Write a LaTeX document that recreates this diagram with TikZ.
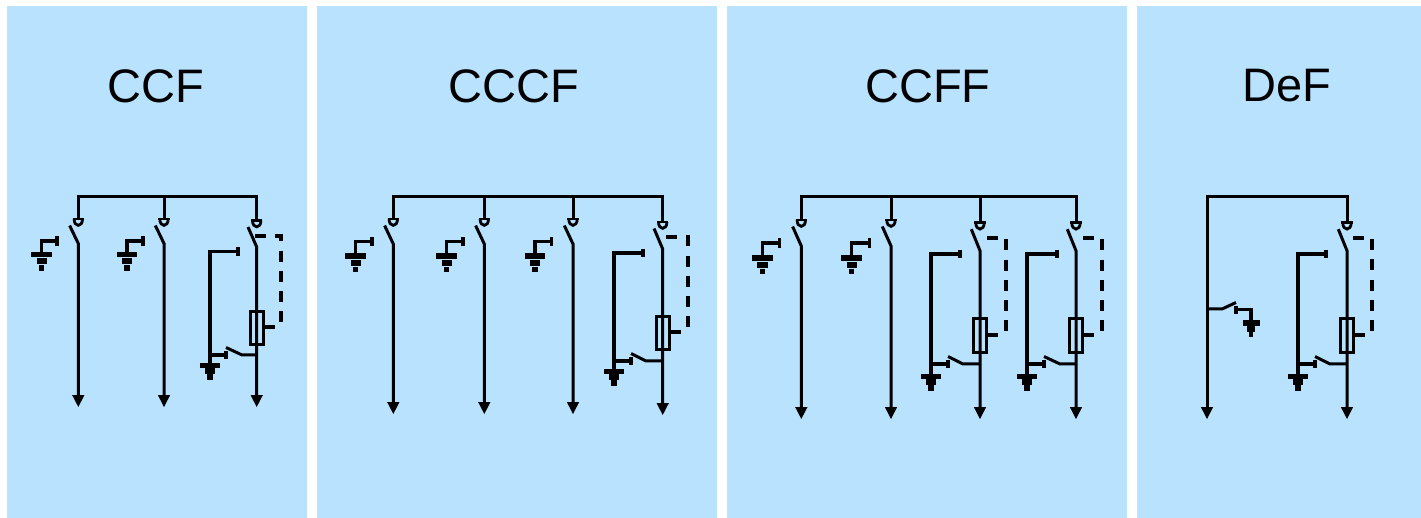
\documentclass[tikz,border=0pt]{standalone}
\usepackage{fontspec}
\setmainfont{Liberation Sans}
\definecolor{panelblue}{HTML}{B9E2FF}
\tikzset{
  wire/.style={line width=3pt,black,line cap=butt,line join=miter},
  earthwire/.style={line width=3.3pt,black,line cap=butt,line join=miter},
  cupwire/.style={line width=2.8pt,black},
  tick/.style={line width=3.6pt,black},
  dashwire/.style={line width=3.2pt,black,dash pattern=on 11pt off 9.3pt},
  panel/.style={fill=panelblue,draw=none},
  title/.style={font=\fontsize{47}{50}\selectfont,text=black,inner sep=0pt,anchor=center}
}
% separated earth symbol: x, top y
\newcommand{\gnd}[2]{%
  \begin{scope}[shift={(#1,#2)}]
  \fill (-10.3,0) rectangle (10.3,5.7);
  \fill (-5.2,6.7) rectangle (5.2,12.7);
  \fill (-2.7,13.7) rectangle (2.7,19);
  \end{scope}}
% merged earth symbol: x, top y
\newcommand{\gndb}[2]{%
  \begin{scope}[shift={(#1,#2)}]
  \fill (-9.6,0) rectangle (9.6,5.4);
  \fill (-5.2,5.4) rectangle (5.2,11);
  \fill (-2.7,11) rectangle (2.7,16.5);
  \end{scope}}
% feeder with isolator: x, cup y, tip y, blade length
\newcommand{\feeder}[4]{%
  \begin{scope}[shift={(#1,0)}]
  \draw[wire] (0,196) -- (0,#2);
  \draw[cupwire] (-5.7,#2) -- (5.7,#2);
  \draw[cupwire] (-4.2,#2) .. controls (-4.2,#2+8.5) and (4.2,#2+8.5) .. (4.2,#2);
  \draw[wire] (-8.7,#2+6.5) -- (0,#2+#4) -- (0,#3-11);
  \fill (-6.2,#3-12) -- (6.2,#3-12) -- (0,#3) -- cycle;
  \end{scope}}
% standalone earth: earth x, bar y, tick x, terminal y
\newcommand{\earthsw}[4]{%
  \draw[earthwire] (#3,#4) -- (#1,#4) -- (#1,#2);
  \draw[tick] (#3,#4-4.7) -- (#3,#4+4.7);
  \gnd{#1}{#2}}
% fuse: feeder x, top, bottom, stub y
\newcommand{\fuse}[4]{%
  \draw[wire] (#1-6.4,#2) rectangle (#1+6.4,#3);
  \draw[earthwire] (#1+6.4,#4) -- (#1+18,#4);}
% dashed link: start x, y, corner x, end y
\newcommand{\dashlink}[4]{%
  \draw[dashwire] (#1,#2) -- (#3,#2) -- (#3,#4);}
% earth path with lower switch: feeder x, earth x, upper tick x, upper y, bar y, lower tick x, lower y, knee x
\newcommand{\lowsw}[8]{%
  \draw[earthwire] (#3,#4) -- (#2,#4) -- (#2,#5);
  \draw[tick] (#3,#4-4.2) -- (#3,#4+4.2);
  \gndb{#2}{#5}
  \draw[wire] (#1,#7) -- (#8,#7) -- (#6,#7-7.5);
  \draw[earthwire] (#2,#7) -- (#6,#7);
  \draw[tick] (#6,#7-4) -- (#6,#7+4);}
\begin{document}
\begin{tikzpicture}[x=1pt,y=-1pt]
\useasboundingbox (0,0) rectangle (1421,518);
\fill[white] (0,0) rectangle (1421,518);
% panels
\fill[panel] (7,6) rectangle (307,518);
\fill[panel] (317,6) rectangle (717,518);
\fill[panel] (727,6) rectangle (1127,518);
\fill[panel] (1137,6) rectangle (1421,518);
\node[title] (t1) at (156,86) {CCF};
\node[title] (t2) at (514,86) {CCCF};
\node[title] (t3) at (928,86) {CCFF};
\node[title] (t4) at (1287,86) {DeF};
% --- CCF
\draw[wire] (76.8,196.4) -- (258.2,196.4);
\feeder{78.3}{219}{407}{24.5}
\feeder{164}{219}{407}{24.5}
\feeder{256.7}{220.5}{407}{26.5}
\earthsw{41.7}{251.7}{57}{241}
\earthsw{127}{251.7}{143}{241}
\fuse{256.7}{312}{344.5}{327}
\dashlink{255}{236}{281}{323}
\lowsw{256.7}{210}{238}{251.7}{363}{226}{355}{242}
% --- CCCF
\draw[wire] (391.8,196.4) -- (664.2,196.4);
\feeder{393.3}{219}{414}{25}
\feeder{484.3}{219}{414}{25}
\feeder{573}{219}{414}{25}
\feeder{662.7}{222}{415}{27}
\earthsw{355.7}{253.5}{372}{241.7}
\earthsw{446.7}{253.5}{462.7}{241.7}
\earthsw{535}{253.5}{551.3}{241.7}
\fuse{662.7}{316.3}{349.5}{332}
\dashlink{666}{237}{688}{329}
\lowsw{662.7}{614}{643}{253}{369}{631}{361}{646}
% --- CCFF
\draw[wire] (799.8,196.4) -- (1077.5,196.4);
\feeder{801.3}{220}{419}{26}
\feeder{891}{220}{419}{26}
\feeder{980}{222.7}{419}{28}
\feeder{1076}{222.7}{419}{28}
\earthsw{762.3}{255}{779.3}{243}
\earthsw{851.7}{255}{869.3}{243}
\fuse{980}{318.6}{352.7}{335}
\dashlink{987}{238}{1006}{333}
\lowsw{980}{931}{960}{254}{374}{948}{364}{963}
\fuse{1076}{318.6}{352.7}{335}
\dashlink{1083}{238}{1102}{333}
\lowsw{1076}{1027}{1057}{254}{374}{1044}{364}{1060}
% --- DeF
\draw[wire] (1348.5,196.4) -- (1207,196.4) -- (1207,407);
\fill (1200.8,407) -- (1213.2,407) -- (1207,419) -- cycle;
\feeder{1347}{222.7}{419}{28}
\fuse{1347}{318.6}{352.7}{335}
\dashlink{1352.7}{238}{1372}{333}
\lowsw{1347}{1298}{1326}{254}{374}{1315}{364}{1330}
\draw[wire] (1207,309) -- (1222,309) -- (1236,302.5);
\draw[earthwire] (1236,309.5) -- (1251,309.5) -- (1251,320);
\draw[tick] (1236,306) -- (1236,314);
\begin{scope}[shift={(1251,320)}]
\fill (-8.5,0) rectangle (8.5,5.6);
\fill (-4,5.6) rectangle (4,12);
\fill (-2,12) rectangle (2,17);
\end{scope}
\end{tikzpicture}
\end{document}
